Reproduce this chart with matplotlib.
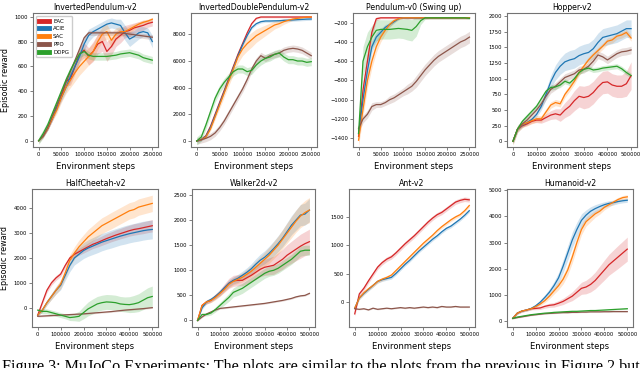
import numpy as np
import matplotlib
matplotlib.use("Agg")
import matplotlib.pyplot as plt
from matplotlib.ticker import ScalarFormatter

# ---------------- data ----------------
names = ["EAC", "ACIE", "SAC", "PPO", "DDPG"]
colors = ["#d62728", "#1f77b4", "#ff7f0e", "#8c564b", "#2ca02c"]

x250 = [i * 10000 for i in range(26)]
x500 = [i * 20000 for i in range(26)]

# InvertedPendulum-v2
ip_eac = [0, 40, 100, 180, 270, 360, 480, 500, 600, 700, 730, 680, 720, 780, 800, 720, 760, 820, 850, 880, 890, 910, 920, 930, 945, 955]
ip_acie = [0, 40, 100, 180, 270, 350, 430, 520, 600, 680, 780, 850, 880, 900, 920, 940, 950, 940, 930, 870, 820, 840, 870, 880, 870, 800]
ip_sac = [0, 40, 100, 180, 250, 350, 430, 490, 550, 600, 640, 680, 720, 800, 860, 880, 810, 860, 880, 880, 900, 920, 940, 955, 965, 980]
ip_ppo = [0, 40, 110, 200, 290, 380, 470, 560, 650, 740, 830, 870, 870, 870, 870, 870, 870, 870, 870, 865, 860, 855, 850, 845, 840, 835]
ip_ddpg = [0, 60, 130, 220, 310, 400, 490, 570, 640, 700, 720, 690, 680, 680, 680, 680, 685, 690, 700, 705, 710, 700, 690, 670, 660, 650]
ip_eac_sd = [0, 10, 15, 20, 25, 30, 40, 50, 60, 60, 60, 70, 80, 80, 80, 80, 70, 60, 60, 50, 50, 40, 40, 40, 30, 30]
ip_acie_sd = [0, 10, 15, 20, 25, 30, 35, 40, 40, 50, 50, 50, 40, 40, 40, 40, 40, 40, 50, 60, 60, 50, 50, 40, 40, 50]
ip_sac_sd = [0, 10, 15, 20, 30, 40, 50, 60, 70, 70, 70, 70, 70, 60, 60, 60, 60, 50, 40, 30, 30, 25, 20, 20, 15, 15]
ip_ppo_sd = 20
ip_ddpg_sd = 30

# InvertedDoublePendulum-v2
idp_eac = [0, 100, 400, 1100, 2000, 2900, 3800, 4700, 5600, 6500, 7300, 8100, 8800, 9200, 9300, 9300, 9300, 9300, 9300, 9300, 9300, 9300, 9300, 9300, 9300, 9300]
idp_acie = [0, 100, 350, 1000, 1900, 2800, 3700, 4600, 5500, 6400, 7200, 7900, 8500, 8800, 8950, 9000, 9000, 9010, 9020, 9050, 9060, 9080, 9100, 9120, 9140, 9150]
idp_sac = [0, 100, 300, 900, 1800, 2700, 3600, 4500, 5400, 6300, 6900, 7300, 7600, 7900, 8100, 8300, 8500, 8700, 8800, 8950, 9050, 9150, 9200, 9250, 9300, 9300]
idp_ppo = [0, 100, 200, 350, 600, 1000, 1500, 2100, 2700, 3300, 3900, 4600, 5400, 6000, 6400, 6200, 6400, 6500, 6600, 6800, 6900, 6950, 6900, 6800, 6600, 6400]
idp_ddpg = [0, 300, 1200, 2200, 3200, 3900, 4400, 4800, 5200, 5400, 5400, 5200, 5300, 5700, 6000, 6200, 6300, 6500, 6600, 6300, 6100, 6100, 6000, 6000, 5900, 5950]
idp_eac_sd = 60
idp_acie_sd = 100
idp_sac_sd = [0, 50, 100, 150, 200, 250, 300, 350, 400, 450, 500, 550, 550, 500, 450, 400, 350, 300, 250, 200, 150, 100, 80, 60, 50, 50]
idp_ppo_sd = 250
idp_ddpg_sd = 300

# Pendulum-v0 (Swing up)
pd_eac = [-1380, -900, -600, -300, -160, -150, -150, -150, -150, -150, -150, -150, -150, -150, -150, -150, -150, -150, -150, -150, -150, -150, -150, -150, -150, -150]
pd_acie = [-1350, -1000, -700, -450, -350, -300, -250, -220, -190, -160, -150, -150, -150, -150, -150, -150, -150, -150, -150, -150, -150, -150, -150, -150, -150, -150]
pd_sac = [-1420, -1100, -800, -600, -450, -350, -280, -220, -180, -160, -150, -150, -150, -150, -150, -150, -150, -150, -150, -150, -150, -150, -150, -150, -150, -150]
pd_ppo = [-1300, -1200, -1150, -1070, -1050, -1050, -1030, -1000, -980, -950, -920, -890, -860, -810, -750, -690, -640, -590, -550, -520, -490, -460, -430, -400, -380, -350]
pd_ddpg = [-1350, -600, -450, -350, -280, -270, -270, -270, -265, -260, -265, -270, -280, -240, -180, -150, -150, -150, -150, -150, -150, -150, -150, -150, -150, -155]
pd_eac_sd = [60, 80, 80, 60, 20, 10, 10, 10, 10, 10, 10, 10, 10, 10, 10, 10, 10, 10, 10, 10, 10, 10, 10, 10, 10, 10]
pd_acie_sd = [60, 80, 80, 60, 50, 40, 30, 20, 15, 10, 10, 10, 10, 10, 10, 10, 10, 10, 10, 10, 10, 10, 10, 10, 10, 10]
pd_sac_sd = [60, 80, 80, 70, 60, 50, 40, 30, 20, 10, 10, 10, 10, 10, 10, 10, 10, 10, 10, 10, 10, 10, 10, 10, 10, 10]
pd_ppo_sd = [40, 40, 40, 40, 30, 30, 30, 40, 40, 40, 40, 50, 50, 60, 60, 60, 60, 60, 60, 60, 60, 60, 60, 60, 60, 60]
pd_ddpg_sd = [60, 150, 150, 120, 110, 100, 100, 100, 100, 100, 100, 110, 110, 100, 40, 15, 10, 10, 10, 10, 10, 10, 10, 10, 10, 10]

# Hopper-v2
hp_eac = [0, 200, 250, 280, 320, 340, 340, 380, 420, 440, 420, 500, 560, 650, 720, 700, 720, 780, 870, 940, 950, 900, 880, 880, 920, 1050]
hp_acie = [0, 200, 260, 300, 350, 430, 560, 750, 950, 1100, 1200, 1270, 1300, 1320, 1370, 1400, 1420, 1480, 1580, 1660, 1680, 1700, 1720, 1760, 1800, 1800]
hp_sac = [0, 200, 270, 300, 330, 360, 360, 470, 580, 620, 600, 750, 850, 960, 1100, 1200, 1300, 1380, 1450, 1520, 1600, 1620, 1680, 1700, 1740, 1650]
hp_ppo = [0, 200, 280, 340, 420, 500, 600, 720, 830, 880, 950, 1020, 1050, 1080, 1140, 1150, 1200, 1280, 1380, 1350, 1300, 1350, 1400, 1430, 1440, 1460]
hp_ddpg = [0, 200, 320, 400, 480, 560, 680, 800, 860, 870, 900, 960, 930, 1000, 1100, 1150, 1170, 1140, 1150, 1170, 1180, 1190, 1200, 1160, 1100, 1050]
hp_eac_sd = [0, 20, 20, 30, 30, 40, 50, 60, 70, 80, 100, 120, 140, 160, 170, 180, 180, 180, 180, 180, 180, 180, 180, 180, 200, 220]
hp_acie_sd = [0, 20, 20, 30, 30, 40, 60, 80, 100, 120, 130, 140, 150, 150, 150, 150, 150, 150, 150, 140, 140, 140, 140, 140, 140, 140]
hp_sac_sd = 50
hp_ppo_sd = 60
hp_ddpg_sd = 40

# HalfCheetah-v2
hc_eac = [-300, 200, 700, 1000, 1200, 1350, 1700, 2000, 2150, 2250, 2350, 2450, 2550, 2620, 2700, 2780, 2850, 2920, 2980, 3040, 3100, 3150, 3180, 3220, 3260, 3300]
hc_acie = [-300, -100, 200, 450, 700, 900, 1300, 1700, 2000, 2150, 2300, 2400, 2480, 2560, 2640, 2700, 2760, 2820, 2880, 2930, 2980, 3020, 3060, 3100, 3130, 3150]
hc_sac = [-300, -100, 200, 450, 700, 950, 1400, 1900, 2200, 2450, 2650, 2850, 3000, 3150, 3300, 3400, 3500, 3600, 3700, 3800, 3900, 3950, 4050, 4100, 4150, 4200]
hc_ppo = [-350, -340, -330, -320, -310, -300, -290, -280, -270, -260, -250, -235, -220, -205, -190, -175, -160, -140, -120, -100, -85, -70, -55, -40, -20, 0]
hc_ddpg = [-100, -150, -150, -200, -250, -300, -350, -400, -380, -350, -200, -50, 50, 150, 200, 230, 220, 200, 150, 130, 120, 150, 200, 300, 400, 450]
hc_eac_sd = [50, 80, 100, 100, 100, 100, 100, 100, 120, 140, 150, 160, 170, 180, 190, 200, 200, 210, 210, 220, 220, 230, 230, 240, 240, 250]
hc_acie_sd = [50, 80, 100, 120, 150, 180, 200, 250, 280, 300, 320, 330, 340, 350, 350, 350, 360, 360, 360, 370, 370, 370, 380, 380, 380, 380]
hc_sac_sd = [50, 80, 100, 120, 150, 180, 200, 230, 250, 270, 290, 300, 310, 320, 320, 320, 330, 330, 330, 330, 330, 330, 330, 330, 330, 330]
hc_ppo_sd = 30
hc_ddpg_sd = [60, 100, 100, 100, 100, 100, 100, 120, 150, 200, 250, 280, 300, 300, 300, 300, 300, 300, 300, 300, 320, 340, 360, 380, 400, 420]

# Walker2d-v2
wk_eac = [0, 300, 370, 400, 480, 550, 650, 740, 790, 800, 800, 850, 900, 960, 1020, 1060, 1080, 1100, 1160, 1220, 1300, 1360, 1420, 1480, 1530, 1570]
wk_acie = [0, 250, 370, 420, 480, 560, 650, 740, 800, 840, 900, 960, 1030, 1120, 1200, 1260, 1340, 1430, 1530, 1640, 1770, 1900, 2000, 2100, 2120, 2200]
wk_sac = [0, 300, 370, 400, 460, 540, 620, 720, 780, 820, 860, 920, 980, 1060, 1140, 1220, 1300, 1400, 1500, 1620, 1740, 1860, 1980, 2080, 2150, 2200]
wk_ppo = [0, 70, 130, 170, 210, 240, 250, 260, 270, 280, 290, 300, 310, 320, 330, 340, 355, 370, 385, 400, 420, 440, 470, 490, 500, 540]
wk_ddpg = [0, 120, 120, 150, 220, 300, 380, 460, 560, 600, 640, 700, 760, 820, 880, 940, 980, 1000, 1040, 1100, 1160, 1220, 1300, 1380, 1400, 1400]
wk_eac_sd = [0, 30, 40, 40, 50, 60, 80, 100, 110, 110, 110, 120, 130, 140, 150, 160, 170, 180, 190, 200, 210, 220, 230, 240, 240, 250]
wk_acie_sd = [0, 30, 40, 40, 50, 60, 60, 70, 70, 80, 80, 90, 100, 110, 120, 130, 140, 150, 160, 170, 180, 190, 200, 210, 220, 230]
wk_sac_sd = [0, 30, 40, 40, 50, 60, 60, 70, 70, 80, 90, 100, 110, 120, 130, 140, 160, 170, 180, 190, 200, 210, 220, 230, 240, 250]
wk_ppo_sd = 15
wk_ddpg_sd = [0, 20, 30, 40, 50, 60, 70, 80, 90, 100, 100, 100, 100, 100, 100, 100, 100, 100, 100, 100, 100, 100, 100, 100, 100, 100]

# Ant-v2
ant_eac = [-200, 150, 250, 380, 500, 620, 700, 760, 800, 870, 950, 1030, 1100, 1170, 1250, 1330, 1410, 1480, 1540, 1580, 1640, 1700, 1760, 1790, 1810, 1800]
ant_acie = [-100, 80, 160, 230, 300, 370, 400, 420, 440, 510, 590, 670, 740, 820, 900, 970, 1040, 1110, 1170, 1240, 1300, 1340, 1400, 1460, 1530, 1610]
ant_sac = [-100, 80, 170, 240, 300, 370, 410, 440, 480, 560, 640, 720, 800, 880, 960, 1040, 1110, 1180, 1260, 1330, 1390, 1450, 1500, 1540, 1610, 1700]
ant_ppo = [-110, -120, -110, -130, -100, -120, -110, -100, -110, -100, -90, -100, -90, -100, -90, -80, -90, -80, -90, -70, -80, -80, -70, -80, -80, -80]
ant_eac_sd = 40
ant_acie_sd = 30
ant_sac_sd = 30
ant_ppo_sd = 10

# Humanoid-v2
hu_eac = [100, 300, 380, 420, 470, 480, 500, 560, 600, 620, 680, 750, 850, 950, 1100, 1250, 1300, 1400, 1550, 1750, 1950, 2150, 2300, 2450, 2600, 2750]
hu_acie = [100, 300, 380, 420, 480, 580, 720, 900, 1100, 1350, 1650, 2100, 2600, 3100, 3500, 3850, 4050, 4200, 4300, 4380, 4450, 4500, 4530, 4570, 4600, 4620]
hu_sac = [100, 300, 380, 420, 470, 550, 650, 780, 950, 1150, 1350, 1600, 1950, 2450, 3000, 3500, 3800, 3950, 4100, 4200, 4350, 4450, 4550, 4650, 4720, 4750]
hu_ppo = [100, 130, 160, 190, 220, 240, 260, 280, 290, 300, 310, 320, 320, 330, 330, 340, 340, 350, 350, 350, 355, 355, 360, 360, 360, 360]
hu_ddpg = [100, 150, 180, 210, 240, 260, 280, 300, 310, 330, 340, 350, 360, 370, 370, 380, 390, 400, 400, 410, 420, 430, 440, 450, 460, 470]
hu_eac_sd = [20, 40, 40, 40, 40, 50, 60, 70, 80, 90, 100, 120, 140, 170, 200, 230, 260, 290, 320, 350, 380, 400, 420, 440, 450, 460]
hu_acie_sd = [20, 40, 40, 40, 50, 60, 80, 100, 130, 160, 200, 250, 280, 300, 280, 250, 200, 170, 150, 130, 110, 100, 90, 80, 80, 80]
hu_sac_sd = [20, 40, 40, 40, 50, 60, 70, 80, 100, 120, 150, 180, 200, 220, 220, 200, 170, 150, 130, 110, 100, 90, 80, 80, 80, 80]
hu_ppo_sd = 20
hu_ddpg_sd = 20

titles = ["InvertedPendulum-v2", "InvertedDoublePendulum-v2", "Pendulum-v0 (Swing up)", "Hopper-v2",
          "HalfCheetah-v2", "Walker2d-v2", "Ant-v2", "Humanoid-v2"]

panels = [
    (x250, [ip_eac, ip_acie, ip_sac, ip_ppo, ip_ddpg], [ip_eac_sd, ip_acie_sd, ip_sac_sd, ip_ppo_sd, ip_ddpg_sd]),
    (x250, [idp_eac, idp_acie, idp_sac, idp_ppo, idp_ddpg], [idp_eac_sd, idp_acie_sd, idp_sac_sd, idp_ppo_sd, idp_ddpg_sd]),
    (x250, [pd_eac, pd_acie, pd_sac, pd_ppo, pd_ddpg], [pd_eac_sd, pd_acie_sd, pd_sac_sd, pd_ppo_sd, pd_ddpg_sd]),
    (x500, [hp_eac, hp_acie, hp_sac, hp_ppo, hp_ddpg], [hp_eac_sd, hp_acie_sd, hp_sac_sd, hp_ppo_sd, hp_ddpg_sd]),
    (x500, [hc_eac, hc_acie, hc_sac, hc_ppo, hc_ddpg], [hc_eac_sd, hc_acie_sd, hc_sac_sd, hc_ppo_sd, hc_ddpg_sd]),
    (x500, [wk_eac, wk_acie, wk_sac, wk_ppo, wk_ddpg], [wk_eac_sd, wk_acie_sd, wk_sac_sd, wk_ppo_sd, wk_ddpg_sd]),
    (x500, [ant_eac, ant_acie, ant_sac, ant_ppo, None], [ant_eac_sd, ant_acie_sd, ant_sac_sd, ant_ppo_sd, None]),
    (x500, [hu_eac, hu_acie, hu_sac, hu_ppo, hu_ddpg], [hu_eac_sd, hu_acie_sd, hu_sac_sd, hu_ppo_sd, hu_ddpg_sd]),
]

ylims = [(-50, 1030), (-450, 9600), (-1490, -100), (-90, 2050),
         (-780, 4780), (-130, 2620), (-430, 1990), (-230, 5050)]
yticks = [range(0, 1001, 200), range(0, 8001, 2000), range(-1400, -199, 200), range(0, 2001, 250),
          range(0, 4001, 1000), range(0, 2501, 500), range(0, 1501, 500), range(0, 5001, 1000)]

# axes rectangles in pixels: (left, right, top, bottom)
rects = [(33, 158, 13, 147), (191, 317, 13, 147), (353, 475, 13, 147), (507, 637, 13, 147),
         (32, 158, 189, 327), (192, 315, 189, 327), (349, 475, 189, 327), (507, 633, 189, 327)]

W, H = 640, 368
fig = plt.figure(figsize=(W / 100, H / 100), dpi=100)
plt.rcParams['font.family'] = ['DejaVu Sans']

for i, (xs, series, sds) in enumerate(panels):
    l, r, t, b = rects[i]
    ax = fig.add_axes([l / W, 1 - b / H, (r - l) / W, (b - t) / H])
    xa = np.array(xs)
    for k in range(5):
        if series[k] is None:
            continue
        y = np.array(series[k], dtype=float)
        sd = np.array(sds[k], dtype=float) * np.ones_like(y)
        ax.fill_between(xa, y - sd, y + sd, color=colors[k], alpha=0.2, lw=0)
        ax.plot(xa, y, color=colors[k], lw=0.9, label=names[k])
    ax.set_xlim(-0.05 * xa[-1], 1.05 * xa[-1])
    ax.set_ylim(*ylims[i])
    ax.set_yticks(list(yticks[i]))
    ax.set_xticks(list(range(0, xa[-1] + 1, 50000 if xa[-1] == 250000 else 100000)))
    for axis in (ax.xaxis, ax.yaxis):
        fmt = ScalarFormatter(useOffset=False)
        fmt.set_scientific(False)
        axis.set_major_formatter(fmt)
    ax.tick_params(labelsize=3.8, length=2, width=0.5, pad=1.5, color='0.3')
    for s in ax.spines.values():
        s.set_color('0.45')
        s.set_linewidth(0.8)
    ax.set_title(titles[i], fontsize=5.6, pad=2.5)
    ax.set_xlabel("Environment steps", fontsize=6.0, labelpad=4)
    if i in (0, 4):
        ax.set_ylabel("Episodic reward", fontsize=5.8, labelpad=3)
    if i == 0:
        leg = ax.legend(loc='upper left', fontsize=4.0, handlelength=1.8, handletextpad=0.8,
                        borderpad=0.5, labelspacing=0.5, framealpha=1.0, edgecolor='0.8')
        for h in leg.get_lines():
            h.set_linewidth(3.5)

fig.text(2 / W, 1 - 359 / H,
         "Figure 3: MuJoCo Experiments: The plots are similar to the plots from the previous in Figure 2 but",
         fontsize=11.6, family='Liberation Serif', va='top', ha='left')

fig.savefig("out.png", dpi=100)
